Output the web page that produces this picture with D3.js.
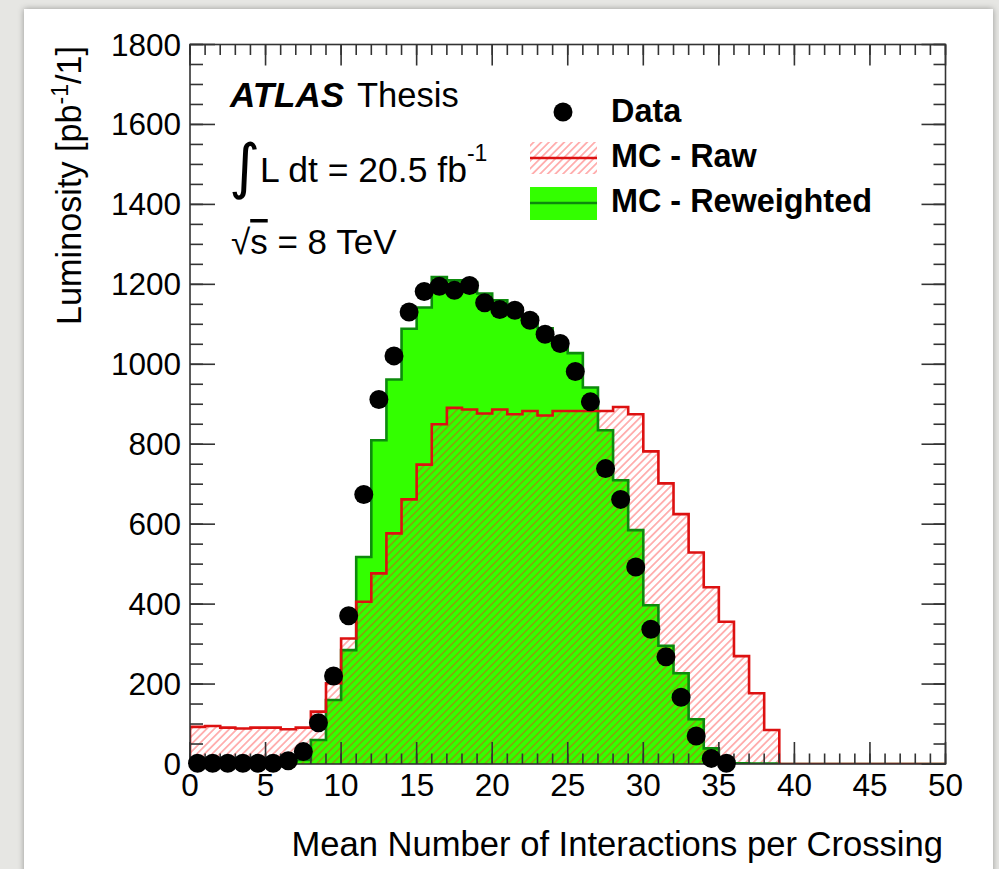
<!DOCTYPE html>
<html><head><meta charset="utf-8">
<script src="https://cdn.jsdelivr.net/npm/d3@7"></script>
<style>
html,body{margin:0;padding:0;background:#e6e6e3;}
svg{display:block;}
text{font-family:"Liberation Sans",Arial,Helvetica,sans-serif;fill:#000;}
</style></head><body>
<svg id="c" width="999" height="869"></svg>
<script>
// ---- data ----
const binEdges = d3.range(0, 51);           // 50 bins of width 1 in <mu>
const dataValues = [2,2,2,2,2,2,8,31,103,220,371,674,912,1021,1131,1182,1195,1185,1197,1154,
                    1137,1135,1110,1075,1052,982,906,739,662,493,337,268,167,70,14,2];
const mcRaw = [93,95,91,89,91,91,87,91,131,202,314,406,477,577,662,749,850,891,887,877,
               887,875,883,872,883,883,883,883,893,875,782,702,625,529,442,356,270,177,85,0,
               0,0,0,0,0,0,0,0,0,0];
const mcReweighted = [0,0,0,0,0,0,0,10,60,160,285,518,810,962,1089,1142,1218,1210,1206,1177,
                      1160,1140,1118,1090,1056,1028,942,835,710,585,397,296,227,112,39,6,2,1,1,0,
                      0,0,0,0,0,0,0,0,0,0];
const xMajorTicks = [0,5,10,15,20,25,30,35,40,45,50];
const yMajorTicks = [0,200,400,600,800,1000,1200,1400,1600,1800];
const legendLabels = ["Data","MC - Raw","MC - Reweighted"];

// ---- layout ----
const svg = d3.select("#c");
const X0 = 190, X1 = 945.5, Y0 = 764, Y1 = 44.5;
const x = d3.scaleLinear().domain([0,50]).range([X0,X1]);
const y = d3.scaleLinear().domain([0,1800]).range([Y0,Y1]);

const defs = svg.append("defs");
const f = defs.append("filter").attr("id","sh").attr("x","-5%").attr("y","-5%").attr("width","110%").attr("height","110%");
f.append("feDropShadow").attr("dx",0).attr("dy",0).attr("stdDeviation",3).attr("flood-color","#000").attr("flood-opacity",0.35);
const pat = defs.append("pattern").attr("id","hatch").attr("patternUnits","userSpaceOnUse")
  .attr("width",5.4).attr("height",5.4).attr("patternTransform","rotate(45)");
pat.append("line").attr("x1",2.7).attr("x2",2.7).attr("y1",-1).attr("y2",7)
  .attr("stroke","rgba(255,30,30,0.5)").attr("stroke-width",1.3);
defs.append("clipPath").attr("id","clip").append("rect")
  .attr("x",X0).attr("y",Y1).attr("width",X1-X0).attr("height",Y0-Y1);

// card
svg.append("rect").attr("x",24).attr("y",9).attr("width",969).attr("height",880)
  .attr("fill","#fff").attr("filter","url(#sh)");

// histogram helpers
function stepPts(vals){
  const pts=[[binEdges[0],0]];
  vals.forEach((v,i)=>{pts.push([binEdges[i],v]);pts.push([binEdges[i+1],v]);});
  pts.push([binEdges[vals.length],0]);
  return pts;
}
const line = d3.line().x(d=>x(d[0])).y(d=>y(d[1]));
const area = d3.area().x(d=>x(d[0])).y0(y(0)).y1(d=>y(d[1]));
const gPlot = svg.append("g").attr("clip-path","url(#clip)");

gPlot.append("path").attr("d",area(stepPts(mcReweighted))).attr("fill","#33ff00");
gPlot.append("path").attr("d",area(stepPts(mcRaw))).attr("fill","url(#hatch)");
gPlot.append("path").attr("d",line(stepPts(mcReweighted))).attr("fill","none")
  .attr("stroke","#0d8a0d").attr("stroke-width",2.6);
gPlot.append("path").attr("d",line(stepPts(mcRaw))).attr("fill","none")
  .attr("stroke","#dd1111").attr("stroke-width",2.6);

// ---- axes / frame ----
const axC = "#333", axW = 1.6;
const xMinor = d3.range(0,51,1), yMinor = d3.range(0,1801,50);
function drawTicks(g, vals, isX, side, len){
  g.selectAll(null).data(vals).enter().append("line")
   .attr("x1",d=> isX? x(d) : (side==="l"?X0:X1))
   .attr("x2",d=> isX? x(d) : (side==="l"?X0+len:X1-len))
   .attr("y1",d=> isX? (side==="b"?Y0:Y1) : y(d))
   .attr("y2",d=> isX? (side==="b"?Y0-len:Y1+len) : y(d))
   .attr("stroke",axC).attr("stroke-width",axW);
}
const gAx = svg.append("g");
drawTicks(gAx, xMinor, true, "b", 10.5);
drawTicks(gAx, xMajorTicks, true, "b", 22);
drawTicks(gAx, xMinor, true, "t", 10.5);
drawTicks(gAx, xMajorTicks, true, "t", 21);
drawTicks(gAx, yMinor, false, "l", 13);
drawTicks(gAx, yMajorTicks, false, "l", 25);
drawTicks(gAx, yMinor, false, "r", 12);
drawTicks(gAx, yMajorTicks, false, "r", 24);
gAx.append("rect").attr("x",X0).attr("y",Y1).attr("width",X1-X0).attr("height",Y0-Y1)
  .attr("fill","none").attr("stroke",axC).attr("stroke-width",axW);

// tick labels
svg.append("g").selectAll("text").data(xMajorTicks).enter().append("text")
  .attr("x",d=>x(d)).attr("y",796).attr("text-anchor","middle").attr("font-size",31.5).text(d=>d);
svg.append("g").selectAll("text").data(yMajorTicks).enter().append("text")
  .attr("x",181).attr("y",d=>y(d)+11).attr("text-anchor","end").attr("font-size",31.5).text(d=>d);

// axis titles
svg.append("text").attr("x",943).attr("y",856).attr("text-anchor","end").attr("font-size",34.6)
  .text("Mean Number of Interactions per Crossing");
const yt = svg.append("text").attr("transform","translate(81,46) rotate(-90)")
  .attr("text-anchor","end").attr("font-size",34.2);
yt.append("tspan").text("Luminosity [pb");
yt.append("tspan").attr("font-size",23).attr("dy",-13).text("-1");
yt.append("tspan").attr("dy",13).text("/1]");

// data points
svg.append("g").selectAll("circle").data(dataValues).enter().append("circle")
  .attr("cx",(d,i)=>x(binEdges[i]+0.5)).attr("cy",d=>y(d)).attr("r",9.5).attr("fill","#000");

// ---- annotations ----
const t1 = svg.append("text").attr("x",230).attr("y",107).attr("font-size",35);
t1.append("tspan").attr("font-weight","bold").attr("font-style","italic").text("ATLAS");
t1.append("tspan").attr("dx",4).attr("font-size",34.5).text(" Thesis");
svg.append("text").attr("x",229).attr("y",187).attr("font-size",60)
  .style("font-family","'DejaVu Sans'").text("∫");
const t2 = svg.append("text").attr("x",260).attr("y",182).attr("font-size",35.5);
t2.append("tspan").text("L dt = 20.5 fb");
t2.append("tspan").attr("font-size",23).attr("dy",-21).text("-1");
const t3 = svg.append("text").attr("x",231).attr("y",254).attr("font-size",35);
t3.append("tspan").text("√");
t3.append("tspan").attr("text-decoration","overline").text("s");
t3.append("tspan").text(" = 8 TeV");

// ---- legend ----
const lg = svg.append("g");
lg.append("circle").attr("cx",563).attr("cy",112).attr("r",9.5).attr("fill","#000");
lg.append("rect").attr("x",530).attr("y",142).attr("width",67).attr("height",32).attr("fill","url(#hatch)");
lg.append("line").attr("x1",530).attr("x2",597).attr("y1",158).attr("y2",158).attr("stroke","#dd1111").attr("stroke-width",2.6);
lg.append("rect").attr("x",530).attr("y",187).attr("width",67).attr("height",33).attr("fill","#33ff00");
lg.append("line").attr("x1",530).attr("x2",597).attr("y1",203).attr("y2",203).attr("stroke","#0d8a0d").attr("stroke-width",2.6);
lg.selectAll("text.l").data(legendLabels).enter().append("text")
  .attr("x",611).attr("y",(d,i)=>[122,167,212][i]).attr("font-size",32.4).attr("font-weight","bold").text(d=>d);
</script>
</body></html>
